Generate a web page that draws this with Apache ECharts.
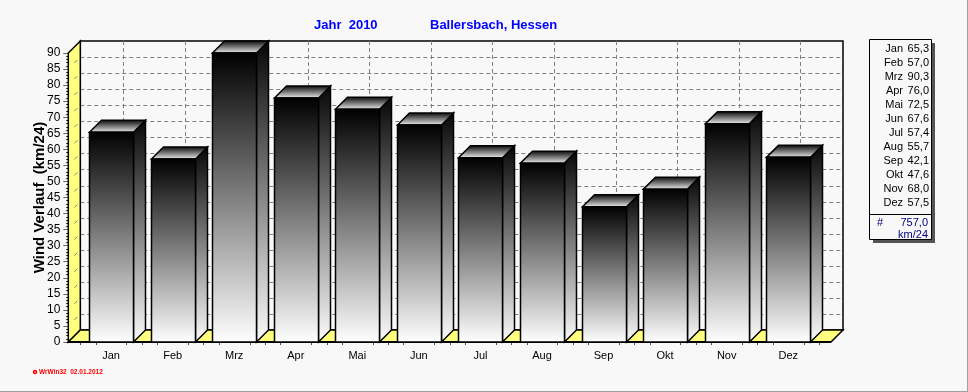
<!DOCTYPE html>
<html>
<head>
<meta charset="utf-8">
<style>
  html, body { margin: 0; padding: 0; background: #f8f8f8; }
  #chart { width: 968px; height: 392px; }
</style>
<script src="https://cdn.jsdelivr.net/npm/echarts@6/dist/echarts.min.js"></script>
</head>
<body>
<div id="chart"></div>
<script>
const months = ['Jan', 'Feb', 'Mrz', 'Apr', 'Mai', 'Jun', 'Jul', 'Aug', 'Sep', 'Okt', 'Nov', 'Dez']
const windValues = [65.3, 57.0, 90.3, 76.0, 72.5, 67.6, 57.4, 55.7, 42.1, 47.6, 68.0, 57.5]
const yearTotal = 757.0
const yTicks = [5, 10, 15, 20, 25, 30, 35, 40, 45, 50, 55, 60, 65, 70, 75, 80, 85]
const yMax = 90

const DEPTH = 12
const BAR_RATIO = 44 / 61.6
const FONT = '"Liberation Sans", Arial, sans-serif'
const BLACK_LINE = { stroke: '#000', lineWidth: 1.5 }

const chart = echarts.init(document.getElementById('chart'))
const fmt = (v) => v.toFixed(1).replace('.', ',')
const crisp = (v) => Math.round(v) + 0.5

const grad = (stops) => new echarts.graphic.LinearGradient(0, 0, 0, 1,
  stops.map((color, i) => ({ offset: i / (stops.length - 1), color })))

// back wall, left wall, floor and the dashed lines on them
const renderWalls = (params, api) => {
  const band = api.size([1, 0])[0]
  const left = api.coord([0, 0])[0] - band / 2
  const right = api.coord([months.length - 1, 0])[0] + band / 2
  const y0 = api.coord([0, 0])[1]
  const yTop = api.coord([0, yMax])[1]
  const backR = right + DEPTH + 12
  const frontR = right + 12
  const children = []

  children.push({ type: 'polygon', shape: { points: [[left, y0 - DEPTH], [backR, y0 - DEPTH], [backR, yTop - DEPTH], [left, yTop - DEPTH]] }, style: { fill: '#f8f8f8', stroke: '#000', lineWidth: 1.5 } })
  yTicks.forEach((t) => {
    const y = crisp(api.coord([0, t])[1] - DEPTH)
    children.push({ type: 'line', shape: { x1: left, y1: y, x2: backR, y2: y }, style: { stroke: '#808080', lineWidth: 1, lineDash: [4, 3] } })
    const yf = api.coord([0, t])[1]
    children.push({ type: 'line', shape: { x1: left - DEPTH * 0.5, y1: yf - DEPTH * 0.5, x2: left - DEPTH * 0.25, y2: yf - DEPTH * 0.75 }, z2: 3, style: { stroke: '#808080', lineWidth: 1 } })
  })
  months.forEach((m, i) => {
    const x = crisp(api.coord([i, 0])[0] + DEPTH)
    children.push({ type: 'line', shape: { x1: x, y1: yTop - DEPTH, x2: x, y2: y0 - DEPTH }, style: { stroke: '#808080', lineWidth: 1, lineDash: [4, 3] } })
    // small ticks under the front edge
    const c = api.coord([i, 0])[0]
    ;[-0.5, -0.25, 0.25, 0.5].forEach((f) => {
      const tx = crisp(c + f * band)
      children.push({ type: 'line', shape: { x1: tx, y1: y0, x2: tx, y2: y0 + 3 }, style: { stroke: '#555', lineWidth: 1 } })
    })
  })
  children.push({ type: 'polygon', z2: 2, shape: { points: [[left - DEPTH, y0], [left, y0 - DEPTH], [left, yTop - DEPTH], [left - DEPTH, yTop]] }, style: { fill: '#ffff80', stroke: '#000', lineWidth: 1.5 } })
  children.push({ type: 'polygon', z2: 2, shape: { points: [[left - DEPTH, y0], [left, y0 - DEPTH], [backR, y0 - DEPTH], [frontR, y0]] }, style: { fill: '#ffff80', stroke: '#000', lineWidth: 1.5 } })
  children.push({ type: 'line', z2: 2, shape: { x1: left - DEPTH, y1: y0, x2: frontR, y2: y0 }, style: { stroke: '#000', lineWidth: 2 } })
  return { type: 'group', children }
}

// one 3D column: side, top, front
const renderBar = (params, api) => {
  const i = api.value(0)
  const v = Math.min(api.value(1), yMax)
  const [cx, yTop] = api.coord([i, v])
  const y0 = api.coord([i, 0])[1]
  const w = api.size([1, 0])[0] * BAR_RATIO
  const x1 = Math.round(cx - w / 2) + 0.5
  const x2 = x1 + Math.round(w)
  return {
    type: 'group',
    children: [
      { type: 'polygon', shape: { points: [[x2, yTop], [x2 + DEPTH, yTop - DEPTH], [x2 + DEPTH, y0 - DEPTH], [x2, y0]] }, style: { ...BLACK_LINE, fill: grad(['#060606', '#fcfcfc']) } },
      { type: 'polygon', shape: { points: [[x1, yTop], [x1 + DEPTH, yTop - DEPTH], [x2 + DEPTH, yTop - DEPTH], [x2, yTop]] }, style: { ...BLACK_LINE, fill: grad(['#000000', '#f4f4f4']) } },
      { type: 'rect', shape: { x: x1, y: yTop, width: x2 - x1, height: y0 - yTop }, style: { ...BLACK_LINE, fill: grad(['#000000', '#ffffff']) } },
    ],
  }
}

// legend box on the right
const legendX = 870
const legendRight = 932
const legendTop = 40
const legendBottom = 240
const legendRows = months.flatMap((m, i) => {
  const y = 48.5 + i * 14
  return [
    { type: 'text', z: 12, style: { x: 903, y, text: m, fill: '#000', font: '11px ' + FONT, align: 'right', verticalAlign: 'middle' } },
    { type: 'text', z: 12, style: { x: 929, y, text: fmt(windValues[i]), fill: '#000', font: '11px ' + FONT, align: 'right', verticalAlign: 'middle' } },
  ]
})

chart.setOption({
  animation: false,
  backgroundColor: '#f8f8f8',
  grid: { left: 80.3, right: 149, top: 53, bottom: 50 },
  xAxis: {
    type: 'category',
    data: months,
    axisLine: { show: false },
    axisTick: { alignWithLabel: true, length: 5, lineStyle: { color: '#555' } },
    axisLabel: { color: '#000', fontSize: 11, fontFamily: FONT, margin: 8 },
    splitLine: { show: false },
  },
  yAxis: {
    type: 'value',
    min: 0,
    max: yMax,
    interval: 5,
    offset: 12,
    name: 'Wind Verlauf  (km/24)',
    nameLocation: 'middle',
    nameGap: 21,
    nameMoveOverlap: false,
    nameTextStyle: { color: '#000', fontSize: 15, fontWeight: 'bold', fontFamily: FONT },
    axisLine: { show: true, onZero: false, lineStyle: { color: '#000', width: 2 } },
    axisTick: { show: true, length: 5, lineStyle: { color: '#666' } },
    minorTick: { show: true, splitNumber: 5, length: 2, lineStyle: { color: '#000' } },
    axisLabel: { color: '#000', fontSize: 12, fontFamily: FONT, margin: 8 },
    splitLine: { show: false },
  },
  series: [
    { type: 'custom', z: 1, silent: true, renderItem: renderWalls, data: [0], encode: { x: 0 } },
    {
      type: 'custom',
      z: 5,
      name: 'Wind',
      renderItem: renderBar,
      data: windValues.map((v, i) => [i, v]),
      encode: { x: 0, y: 1 },
    },
  ],
  graphic: [
    { type: 'text', z: 12, style: { x: 314, y: 25, text: 'Jahr  2010', fill: '#0000ff', font: 'bold 13px ' + FONT, verticalAlign: 'middle' } },
    { type: 'text', z: 12, style: { x: 430, y: 25, text: 'Ballersbach, Hessen', fill: '#0000ff', font: 'bold 13px ' + FONT, verticalAlign: 'middle' } },
    { type: 'circle', z: 12, shape: { cx: 35, cy: 372, r: 1.5 }, style: { fill: '#f8f8f8', stroke: '#ff0000', lineWidth: 1.5 } },
    { type: 'text', z: 12, style: { x: 39, y: 372, text: 'WrWin32  02.01.2012', fill: '#ff0000', font: 'bold 6.5px ' + FONT, verticalAlign: 'middle' } },
    { type: 'rect', z: 10, shape: { x: legendX + 3, y: legendTop + 3, width: legendRight - legendX, height: legendBottom - legendTop }, style: { fill: '#555' } },
    { type: 'rect', z: 11, shape: { x: legendX - 0.5, y: legendTop - 0.5, width: legendRight - legendX, height: legendBottom - legendTop }, style: { fill: '#f8f8f8', stroke: '#000', lineWidth: 1 } },
    { type: 'line', z: 12, shape: { x1: legendX, y1: 214.5, x2: legendRight, y2: 214.5 }, style: { stroke: '#000', lineWidth: 1 } },
    ...legendRows,
    { type: 'text', z: 12, style: { x: 877, y: 222.5, text: '#', fill: '#000080', font: '11px ' + FONT, verticalAlign: 'middle' } },
    { type: 'text', z: 12, style: { x: 928, y: 222.5, text: fmt(yearTotal), fill: '#000080', font: '11px ' + FONT, align: 'right', verticalAlign: 'middle' } },
    { type: 'text', z: 12, style: { x: 928, y: 234.5, text: 'km/24', fill: '#000080', font: '11px ' + FONT, align: 'right', verticalAlign: 'middle' } },
    { type: 'line', z: 12, shape: { x1: 967.5, y1: 0, x2: 967.5, y2: 392 }, style: { stroke: '#a0a0a0', lineWidth: 1 } },
    { type: 'line', z: 12, shape: { x1: 0, y1: 391.5, x2: 968, y2: 391.5 }, style: { stroke: '#a0a0a0', lineWidth: 1 } },
  ],
})
</script>
</body>
</html>
